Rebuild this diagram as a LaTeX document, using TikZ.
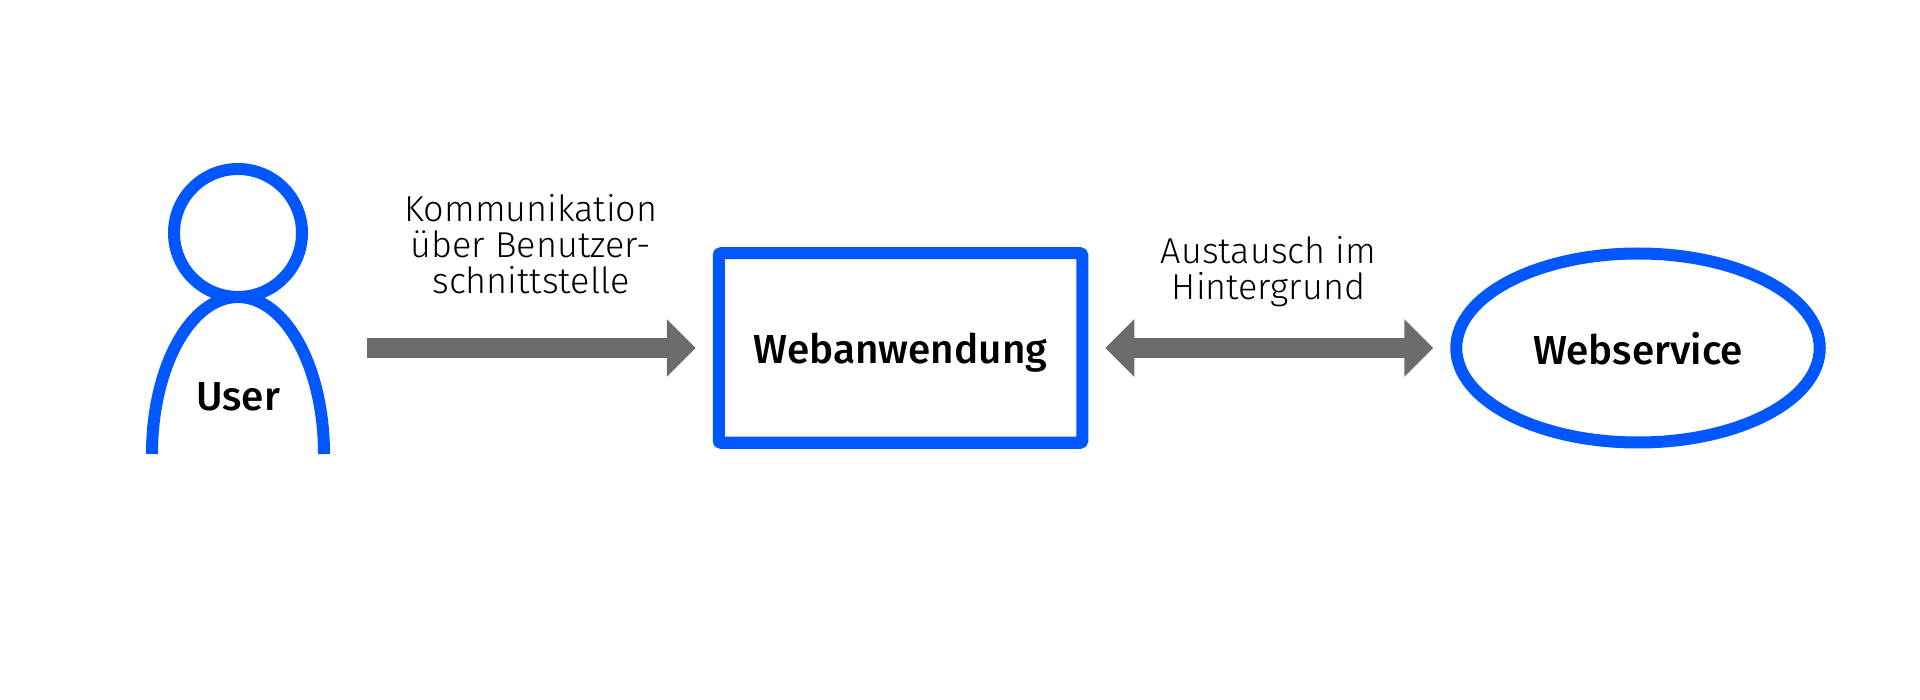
\documentclass[tikz,border=0pt]{standalone}
\usepackage{fontspec}
\usepackage{xcolor}
\usetikzlibrary{arrows.meta}
\usetikzlibrary{shapes.geometric}
\setmainfont{Fira Sans}[UprightFont=* Light]
\newfontfamily\boxfont{Fira Sans}[UprightFont=* Medium]
\definecolor{ibmblue}{RGB}{0,87,255}
\definecolor{flowgray}{RGB}{108,108,108}
\tikzset{
	outline/.style={draw=ibmblue,line width=12pt},
	boxlabel/.style={font=\boxfont\fontsize{40.5}{44}\selectfont,text=black,text depth=0pt},
	flowlabel/.style={font=\fontsize{36}{36}\selectfont,align=center,inner sep=0pt},
	flow/.style={draw=flowgray,line width=20pt,shorten >=17pt,{-{Triangle[length=29pt,width=56pt]}}},
	bothflow/.style={flow,shorten <=17pt,{{Triangle[length=29pt,width=56pt]}-{Triangle[length=29pt,width=56pt]}}}
}

\begin{document}
\begin{tikzpicture}[x=1pt,y=-1pt]
	\useasboundingbox (0,0) rectangle (1920,700);

	% person
	\node [outline,circle,minimum size=128pt,inner sep=0pt] (head) at (238,233) {};
	\draw [outline] (152,454) arc[start angle=180,end angle=0,x radius=86pt,y radius=157pt];
	\node [boxlabel,inner sep=0pt] (user) at (238,397) {User};

	% boxes
	\node [outline,boxlabel,rectangle,rounded corners=1pt,line join=round,minimum width=363.5pt,minimum height=189.5pt] (app) at (900.5,348) {Webanwendung};
	\node [outline,boxlabel,ellipse,minimum width=363.5pt,minimum height=189pt,inner sep=0pt] (service) at (1638,348) {Webservice};

	\coordinate (start) at (366.5,348);

	\draw [flow] (start) -- (app);
	\draw [bothflow] (app) -- (service);

	\node [flowlabel] (talk) at (531,244) {Kommunikation\\über Benutzer-\\schnittstelle};
	\node [flowlabel] (swap) at (1268.5,272) {Austausch im\\Hintergrund};
\end{tikzpicture}
\end{document}
